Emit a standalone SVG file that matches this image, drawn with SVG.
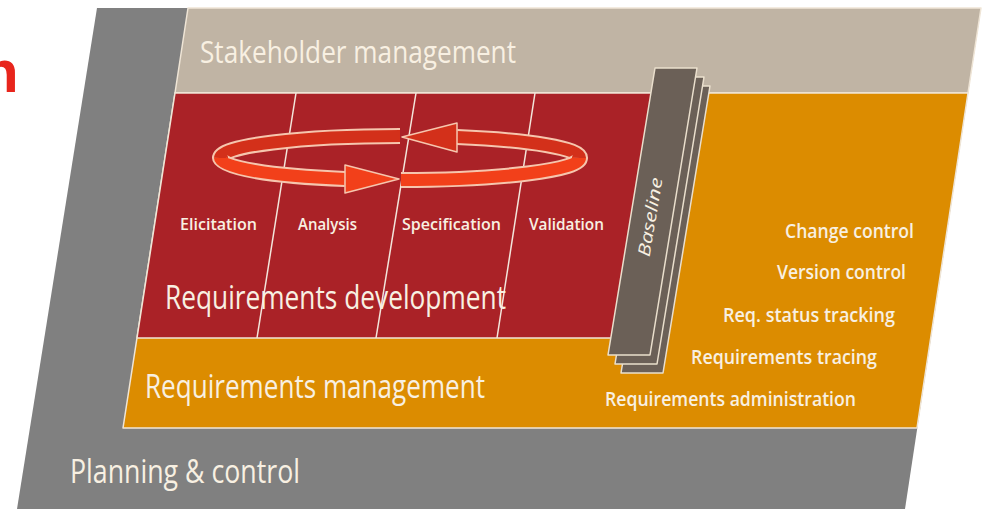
<svg xmlns="http://www.w3.org/2000/svg" width="982" height="509" viewBox="0 0 982 509">
<style>
.t{font-family:"Open Sans","Noto Sans","Liberation Sans",sans-serif;fill:#f8f0e2;font-weight:400}
.s{font-weight:600}
.band{stroke:#efe5d6;stroke-width:1.5;stroke-linejoin:round}
.div{stroke:#f3e6dc;stroke-width:1.5;fill:none}
.sheet{fill:#6b6057;stroke:#eadfcd;stroke-width:1.5;stroke-linejoin:round}
.rib{fill:none;stroke-linecap:butt}
</style>
<rect width="982" height="509" fill="#ffffff"/>
<text x="-18" y="92" font-family="Liberation Sans,Arial,sans-serif" font-weight="bold" font-size="60" fill="#e8251c">n</text>
<g id="planning">
<polygon points="97,8 981,8 905,509 17,509" fill="#808080"/>
<text class="t" x="70" y="483" font-size="33" textLength="230" lengthAdjust="spacingAndGlyphs">Planning &amp; control</text>
</g>
<g id="stakeholder">
<polygon class="band" points="188,8 981,8 968,93 175,93" fill="#c0b4a4"/>
<text class="t" x="200" y="63" font-size="31" textLength="316" lengthAdjust="spacingAndGlyphs">Stakeholder management</text>
</g>
<g id="req-management">
<polygon class="band" points="175,93 968,93 917,428 123,428" fill="#dc8c00"/>
<text class="t" x="145" y="398" font-size="32" textLength="340" lengthAdjust="spacingAndGlyphs">Requirements management</text>
<text class="t s" x="785" y="238" font-size="19" textLength="129" lengthAdjust="spacingAndGlyphs">Change control</text>
<text class="t s" x="777" y="279" font-size="19" textLength="129" lengthAdjust="spacingAndGlyphs">Version control</text>
<text class="t s" x="723" y="322" font-size="19" textLength="172" lengthAdjust="spacingAndGlyphs">Req. status tracking</text>
<text class="t s" x="691" y="364" font-size="19" textLength="186" lengthAdjust="spacingAndGlyphs">Requirements tracing</text>
<text class="t s" x="605" y="406" font-size="19" textLength="251" lengthAdjust="spacingAndGlyphs">Requirements administration</text>
</g>
<g id="req-development">
<polygon class="band" points="175,93 662,93 614,338 137,338" fill="#aa2227"/>
<line class="div" x1="296" y1="93" x2="257" y2="338"/>
<line class="div" x1="416" y1="93" x2="376" y2="338"/>
<line class="div" x1="535" y1="93" x2="497" y2="338"/>
<text class="t s" x="180" y="230" font-size="17" textLength="77" lengthAdjust="spacingAndGlyphs">Elicitation</text>
<text class="t s" x="298" y="230" font-size="17" textLength="59" lengthAdjust="spacingAndGlyphs">Analysis</text>
<text class="t s" x="402" y="230" font-size="17" textLength="99" lengthAdjust="spacingAndGlyphs">Specification</text>
<text class="t s" x="529" y="230" font-size="17" textLength="75" lengthAdjust="spacingAndGlyphs">Validation</text>
<text class="t" x="165" y="309" font-size="33" textLength="341" lengthAdjust="spacingAndGlyphs">Requirements development</text>
</g>
<g id="cycle">
<path class="rib" d="M400,136 A180,22 0 0 0 220,158" stroke="#f6c6ae" stroke-width="16"/>
<path class="rib" d="M400,136 A180,22 0 0 0 220,158" stroke="#d3301a" stroke-width="12"/>
<path class="rib" d="M580,158 A180,22 0 0 0 457,137" stroke="#f6c6ae" stroke-width="16"/>
<path class="rib" d="M580,158 A180,22 0 0 0 457,137" stroke="#d3301a" stroke-width="12"/>
<polygon points="457,123 402,137 457,152" fill="#d3301a" stroke="#f6c6ae" stroke-width="1.5" stroke-linejoin="round"/>
<path class="rib" d="M220,158 A180,22 0 0 0 345,179" stroke="#f6c6ae" stroke-width="16"/>
<path class="rib" d="M220,158 A180,22 0 0 0 345,179" stroke="#f2401a" stroke-width="12"/>
<path class="rib" d="M401,180 A180,22 0 0 0 580,158" stroke="#f6c6ae" stroke-width="16"/>
<path class="rib" d="M401,180 A180,22 0 0 0 580,158" stroke="#f2401a" stroke-width="12"/>
<polygon points="345,165 399,179 345,193" fill="#f2401a" stroke="#f6c6ae" stroke-width="1.5" stroke-linejoin="round"/>
</g>
<g id="baseline">
<polygon class="sheet" points="668,86 710,86 663,373 621,373"/>
<polygon class="sheet" points="662,77 704,77 657,364 615,364"/>
<polygon class="sheet" points="655,68 697,68 650,355 608,355"/>
<text class="t" x="0" y="0" font-size="17" font-style="italic" text-anchor="middle" textLength="80" lengthAdjust="spacingAndGlyphs" transform="translate(656,218) rotate(-80.5)">Baseline</text>
</g>
</svg>
